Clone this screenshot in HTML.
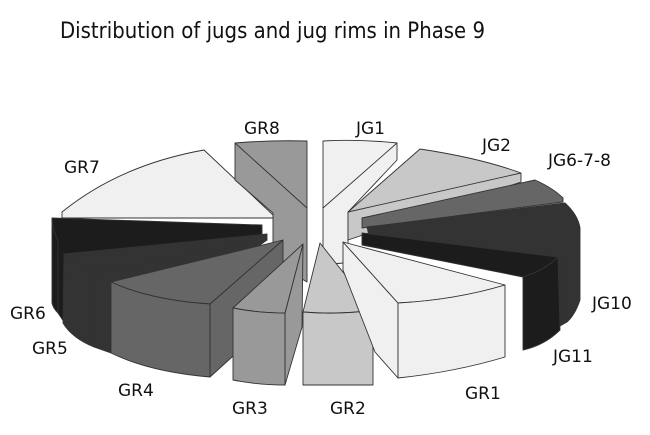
<!DOCTYPE html>
<html><head><meta charset="utf-8"><style>
html,body{margin:0;padding:0;background:#fff;}
svg{display:block;}
text{font-family:"DejaVu Sans","Liberation Sans",sans-serif;fill:#111;}
</style></head><body>
<svg width="650" height="435" viewBox="0 0 650 435" xmlns="http://www.w3.org/2000/svg">
<text x="60" y="38" font-size="22" textLength="425" lengthAdjust="spacingAndGlyphs">Distribution of jugs and jug rims in Phase 9</text>
<g stroke="#333" stroke-width="0.9" stroke-linejoin="round">
<!-- GR7 -->
<path d="M273,215 L204,150 Q120,165 62,212 L62,218 L273,218 Z" fill="#f0f0f0"/>
<!-- GR8 -->
<path d="M235,143 Q270,140 307,141 L307,282 L273,262 L273,213 L235,180 Z" fill="#999"/>
<path d="M235,143 L307,208" fill="none"/>
<!-- JG1 -->
<path d="M323,141 Q360,139 397,143 L397,160 L348,212 L348,250 L343,263 L323,265 Z" fill="#f0f0f0"/>
<path d="M323,208 L397,143" fill="none"/>
<!-- JG2 -->
<path d="M348,212 L420,149 Q480,158 521,173 L521,182 L348,240 Z" fill="#c8c8c8"/>
<path d="M348,212 L521,173" fill="none"/>
<!-- JG6-7-8 -->
<path d="M362,218 L535,180 Q553,188 563,198 L563,202 L362,228 Z" fill="#666"/>
<!-- JG10 -->
<path d="M367,227 L565,203 Q578,215 580,228 L580,300 Q575,315 567,322 L560,326 L558,257 L370,240 Z" fill="#333"/>
<path d="M567,252 Q577,240 580,228 M567,252 L567,322" fill="none"/>
<!-- JG11 -->
<path d="M362,233 L558,257 L560,330 Q545,345 523,350 L523,277 L362,245 Z" fill="#1c1c1c"/>
<path d="M523,277 Q545,270 558,257" fill="none"/>
<!-- GR6 -->
<path d="M52,218 L262,225 L262,242 L64,254 L64,322 L58,313 Q53,308 52,303 Z" fill="#1c1c1c"/>
<path d="M52,218 Q53,232 58,240 L58,313" fill="none"/>
<!-- GR5 -->
<path d="M94,273 L267,240 L111,353 L94,347 Z" fill="#333"/>
<path d="M64,254 L267,234 L267,240 L94,273 Q75,265 64,254 Z" fill="#333"/>
<path d="M64,254 Q75,265 94,273 L94,347 Q72,338 63,323 Z" fill="#333"/>
<!-- GR4 -->
<path d="M283,240 L283,310 L232,357 L210,377 L210,304 Z" fill="#666"/>
<path d="M283,240 L111,282 Q150,300 210,304 Z" fill="#666"/>
<path d="M111,282 Q150,300 210,304 L210,377 Q150,372 111,353 Z" fill="#666"/>
<!-- GR3 -->
<path d="M303,244 L302,327 L285,385 L285,313 Z" fill="#999"/>
<path d="M303,244 L285,313 Q258,313 233,308 Z" fill="#999"/>
<path d="M233,308 Q258,313 285,313 L285,385 Q258,385 233,380 Z" fill="#999"/>
<!-- GR2 -->
<path d="M320,243 L373,310 Q340,315 303,312 Z" fill="#c8c8c8"/>
<path d="M303,312 Q340,315 373,310 L373,385 L303,385 Z" fill="#c8c8c8"/>
<!-- GR1 -->
<path d="M343,242 L398,303 L398,378 L375,352 L343,270 Z" fill="#f0f0f0"/>
<path d="M343,242 L505,285 Q455,300 398,303 Z" fill="#f0f0f0"/>
<path d="M398,303 Q455,300 505,285 L505,357 Q455,372 398,378 Z" fill="#f0f0f0"/>
</g>
<g font-size="17">
<text x="244" y="134">GR8</text>
<text x="356" y="134">JG1</text>
<text x="482" y="151">JG2</text>
<text x="548" y="166">JG6-7-8</text>
<text x="64" y="173">GR7</text>
<text x="10" y="319">GR6</text>
<text x="32" y="354">GR5</text>
<text x="118" y="396">GR4</text>
<text x="232" y="414">GR3</text>
<text x="330" y="414">GR2</text>
<text x="465" y="399">GR1</text>
<text x="553" y="362">JG11</text>
<text x="592" y="309">JG10</text>
</g>
</svg>
</body></html>
